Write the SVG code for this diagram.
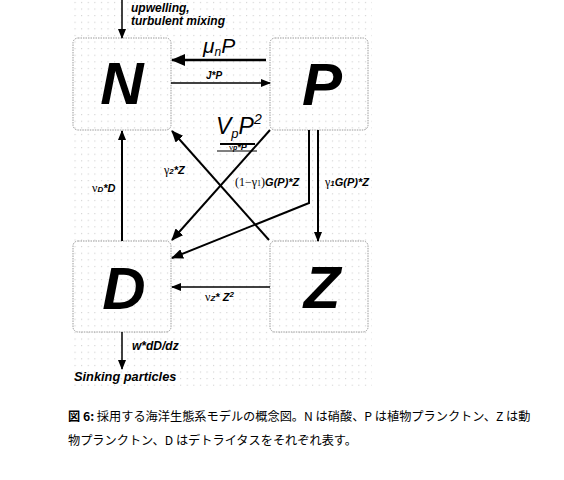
<svg xmlns="http://www.w3.org/2000/svg" width="564" height="480" viewBox="0 0 564 480">
<defs>
<pattern id="dots" x="0" y="0" width="6.6" height="6.6" patternUnits="userSpaceOnUse">
<rect x="2" y="2" width="1" height="1" fill="#c4c4c4"/>
</pattern>
<marker id="ah" markerUnits="userSpaceOnUse" markerWidth="10" markerHeight="8" refX="9" refY="4" orient="auto">
<path d="M0,0 L10,4 L0,8 Z" fill="#000"/>
</marker>
<marker id="ahm" markerUnits="userSpaceOnUse" markerWidth="12" markerHeight="10" refX="11" refY="5" orient="auto">
<path d="M0,0 L12,5 L0,10 Z" fill="#000"/>
</marker>
<marker id="ahb" markerUnits="userSpaceOnUse" markerWidth="14" markerHeight="12" refX="13" refY="6" orient="auto">
<path d="M0,0 L14,6 L0,12 Z" fill="#000"/>
</marker>
</defs>
<style>
.box{fill:none;stroke:#9a9a9a;stroke-width:1;stroke-dasharray:1.5 1}
.big{font-family:"Liberation Sans",Arial,sans-serif;font-weight:bold;font-style:italic;font-size:60px;fill:#000}
.lb{font-family:"Liberation Sans",Arial,sans-serif;font-weight:bold;font-style:italic;fill:#000}
.gk{font-family:"Liberation Serif","Times New Roman",serif;font-style:normal;font-weight:normal}
.ln{stroke:#000;fill:none}
.cap{font-family:"Noto Sans CJK JP","Liberation Serif",sans-serif;font-size:12.2px;fill:#000}
</style>
<rect x="0" y="0" width="564" height="480" fill="#fff"/>
<rect x="72" y="0" width="300" height="386" fill="url(#dots)"/>

<g id="node-N"><rect class="box" x="73" y="38" width="98" height="92" rx="5"/><text class="big" x="122" y="104" text-anchor="middle">N</text></g>
<g id="node-P"><rect class="box" x="270" y="38" width="98" height="92" rx="5"/><text class="big" x="322" y="105" text-anchor="middle">P</text></g>
<g id="node-D"><rect class="box" x="73" y="241" width="98" height="91" rx="5"/><text class="big" x="124" y="309" text-anchor="middle">D</text></g>
<g id="node-Z"><rect class="box" x="270" y="241" width="98" height="91" rx="5"/><text class="big" x="322" y="308" text-anchor="middle">Z</text></g>

<g id="connectors">
<line class="ln" x1="122" y1="0" x2="122" y2="38" stroke-width="1.5" marker-end="url(#ah)"/>
<line class="ln" x1="266" y1="60" x2="172" y2="60" stroke-width="2.5" marker-end="url(#ahb)"/>
<line class="ln" x1="171" y1="83" x2="270" y2="83" stroke-width="1.5" marker-end="url(#ah)"/>
<line class="ln" x1="270" y1="130" x2="172" y2="240" stroke-width="2" marker-end="url(#ahm)"/>
<line class="ln" x1="269" y1="240" x2="172" y2="131" stroke-width="2" marker-end="url(#ahm)"/>
<polyline class="ln" points="309,130 309,203 172,258" stroke-width="2" marker-end="url(#ahm)"/>
<line class="ln" x1="318" y1="130" x2="318" y2="241" stroke-width="2" marker-end="url(#ah)"/>
<line class="ln" x1="122" y1="241" x2="122" y2="131" stroke-width="2" marker-end="url(#ah)"/>
<line class="ln" x1="270" y1="287" x2="172" y2="287" stroke-width="1.5" marker-end="url(#ah)"/>
<line class="ln" x1="122" y1="332" x2="122" y2="369" stroke-width="1.5" marker-end="url(#ah)"/>
</g>

<g id="labels">
<text class="lb" x="131" y="12" style="font-size:12px">upwelling,</text>
<text class="lb" x="131" y="24.5" style="font-size:12px">turbulent mixing</text>
<text x="203" y="53" font-family="Liberation Sans,Arial,sans-serif" font-style="italic" font-size="21">μ<tspan font-size="12" dy="3">n</tspan><tspan dy="-3">P</tspan></text>
<text class="lb" x="206" y="79" style="font-size:10px">J*P</text>
<text x="216" y="134" font-family="Liberation Sans,Arial,sans-serif" font-style="italic" font-size="23">V<tspan font-size="13" dy="4">p</tspan><tspan dy="-4">P</tspan><tspan font-size="14" dy="-10">2</tspan></text>
<text class="lb" x="229" y="150" style="font-size:9px"><tspan class="gk">ν</tspan><tspan style="font-size:7px">p</tspan>*P</text>
<line class="ln" x1="220" y1="144" x2="255" y2="144" stroke-width="2"/>
<line class="ln" x1="217" y1="151" x2="257" y2="151" stroke-width="1"/>
<text class="lb" x="164" y="174" style="font-size:11px"><tspan class="gk" style="font-size:12px">γ</tspan><tspan style="font-size:8px">2</tspan>*Z</text>
<text class="lb" x="235" y="186" style="font-size:11px"><tspan class="gk" style="font-size:12px">(1−γ<tspan style="font-size:8px">1</tspan>)</tspan>G(P)*Z</text>
<text class="lb" x="325" y="186" style="font-size:11px"><tspan class="gk" style="font-size:12px">γ</tspan><tspan style="font-size:8px">1</tspan>G(P)*Z</text>
<text class="lb" x="92" y="192" style="font-size:11px"><tspan class="gk" style="font-size:12px">ν</tspan><tspan style="font-size:8px">D</tspan>*D</text>
<text class="lb" x="205" y="301" style="font-size:11px"><tspan class="gk" style="font-size:12px">ν</tspan><tspan style="font-size:8px">Z</tspan>* Z<tspan style="font-size:8px" dy="-4">2</tspan></text>
<text class="lb" x="132" y="350" style="font-size:12px">w*dD/dz</text>
<text class="lb" x="74" y="381" style="font-size:12.8px">Sinking particles</text>
</g>

<g id="caption">
<text class="cap" x="68" y="421"><tspan font-weight="bold">図 6:</tspan> 採用する海洋生態系モデルの概念図。N は硝酸、P は植物プランクトン、Z は動</text>
<text class="cap" x="68" y="445">物プランクトン、D はデトライタスをそれぞれ表す。</text>
</g>
</svg>
